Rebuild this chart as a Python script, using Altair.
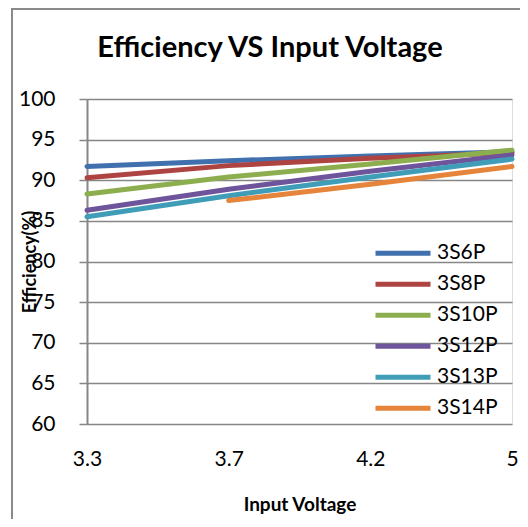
import altair as alt
import pandas as pd

voltages = ["3.3", "3.7", "4.2", "5"]
series = ["3S6P", "3S8P", "3S10P", "3S12P", "3S13P", "3S14P"]
colors = ["#4170AE", "#AE4442", "#8DAE4E", "#6E549A", "#409DB8", "#E5843A"]
eff_3s6p = [91.7, 92.4, 93.0, 93.5]
eff_3s8p = [90.3, 91.8, 92.7, 93.35]
eff_3s10p = [88.3, 90.4, 92.0, 93.7]
eff_3s12p = [86.3, 88.9, 91.1, 93.1]
eff_3s13p = [85.5, 88.1, 90.4, 92.6]
eff_3s14p = [None, 87.5, 89.5, 91.7]
chart_title = "Efficiency VS Input Voltage"

rows = []
for s, vals in zip(series, [eff_3s6p, eff_3s8p, eff_3s10p, eff_3s12p, eff_3s13p, eff_3s14p]):
    for v, e in zip(voltages, vals):
        if e is not None:
            rows.append({"V": v, "Eff": e, "S": s, "order": series.index(s)})
df = pd.DataFrame(rows)

FONT = "Lato"
GRID = "#868686"

lines = alt.Chart(df).mark_line(strokeWidth=5, strokeCap="round").encode(
    x=alt.X("V:O", sort=voltages, scale=alt.Scale(type="point", padding=0),
            axis=alt.Axis(title="Input Voltage", labelAngle=0, labelFontSize=21,
                          labelFont=FONT, labelColor="#000", labelPadding=24,
                          ticks=False, domain=False, grid=False,
                          titleFont=FONT, titleFontSize=19, titleFontWeight="bold",
                          titleColor="#000", titleY=86, titleBaseline="alphabetic")),
    y=alt.Y("Eff:Q", scale=alt.Scale(domain=[60, 100], nice=False, zero=False),
            axis=alt.Axis(title="Efficiency(%)", values=list(range(60, 101, 5)),
                          labelFontSize=21, labelFont=FONT, labelColor="#000",
                          labelAlign="right", labelPadding=24, tickSize=8,
                          tickColor=GRID, tickWidth=1.5,
                          domainColor=GRID, domainWidth=2, gridColor=GRID, gridWidth=1.5,
                          titleFont=FONT, titleFontSize=18, titleFontWeight="bold",
                          titleColor="#000", titleX=-57, titleY=162.5, titleAngle=270,
                          titleAlign="center", titleBaseline="middle")),
    color=alt.Color("S:N", sort=series, scale=alt.Scale(domain=series, range=colors),
                    legend=alt.Legend(title=None, orient="none", legendX=286, legendY=139,
                                      symbolType="stroke", symbolSize=3025,
                                      symbolStrokeWidth=5, clipHeight=30.5, rowPadding=0,
                                      padding=0, labelFont=FONT, labelFontSize=21,
                                      labelColor="#000", labelOffset=4)),
    order="order:Q",
)

base = alt.Chart(alt.Data(values=[{"a": 1}]))
frame = base.mark_rect(fillOpacity=0, stroke="#8a8a8a", strokeWidth=2).encode(
    x=alt.value(-75), x2=alt.value(600), y=alt.value(-90), y2=alt.value(600))
title = base.mark_text(font=FONT, fontSize=29, fontWeight="bold", color="#000",
                       align="center", baseline="alphabetic").encode(
    x=alt.value(183), y=alt.value(-42), text=alt.value(chart_title))

chart = alt.layer(frame, lines, title).properties(
    width=425, height=325,
    padding={"left": 79, "top": 91, "right": 8, "bottom": 95},
    autosize=alt.AutoSizeParams(type="none"),
).configure_view(stroke=None).configure(background="white")

chart.save("out.html", embed_options={"renderer": "svg", "actions": False})
